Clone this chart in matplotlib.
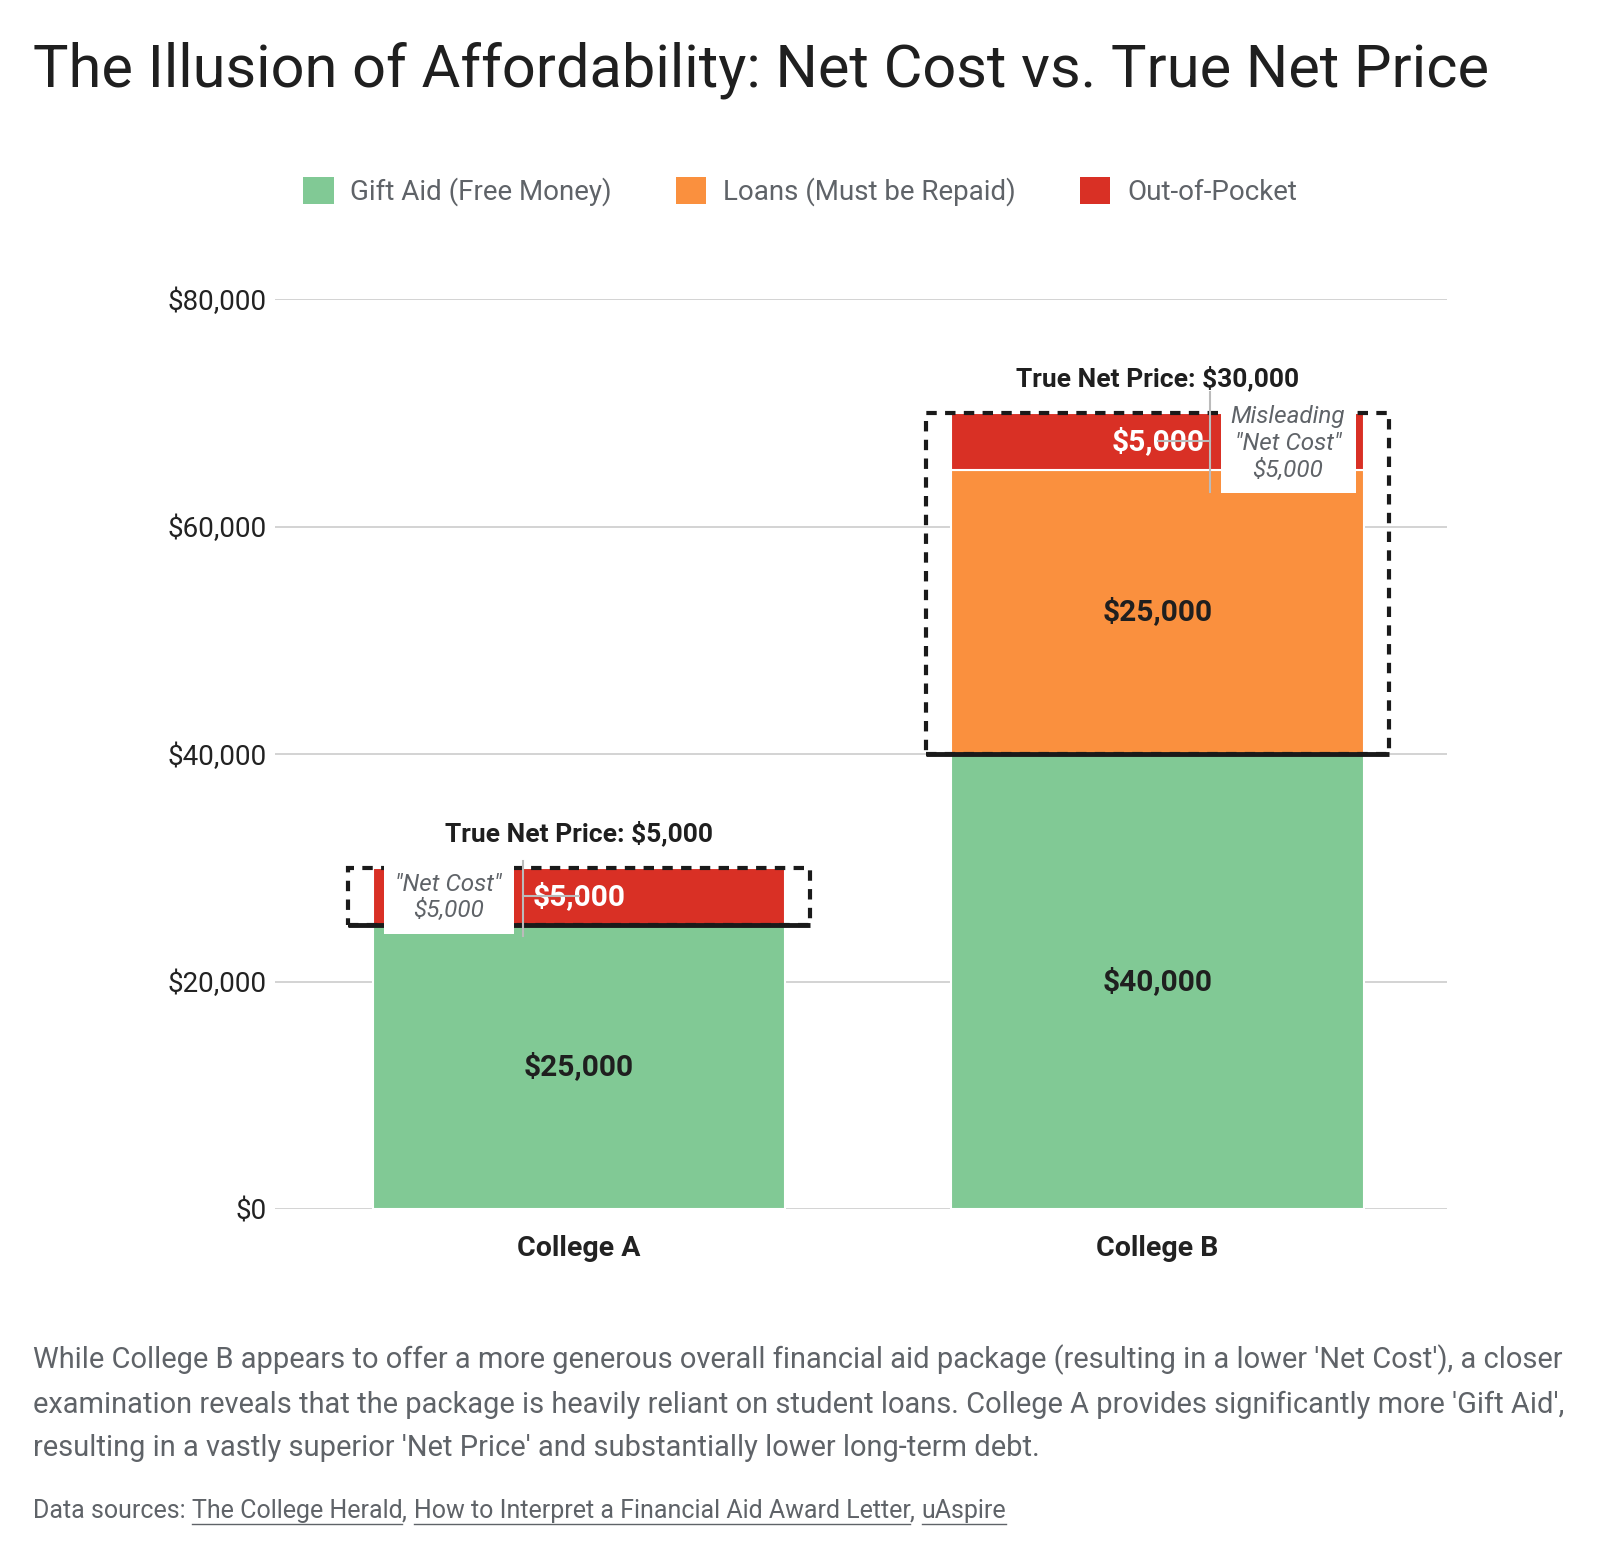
import matplotlib
matplotlib.use('Agg')
import matplotlib.pyplot as plt
from matplotlib.patches import Rectangle, Patch
import numpy as np

# data
colleges = ['College A', 'College B']
gift_aid = [25000, 40000]
loans = [0, 25000]
out_of_pocket = [5000, 5000]
true_net_price = [5000, 30000]
net_cost = [5000, 5000]
series_names = ['Gift Aid (Free Money)', 'Loans (Must be Repaid)', 'Out-of-Pocket']
colors = ['#81c995', '#fa903e', '#d93025']
y_ticks = [0, 20000, 40000, 60000, 80000]

plt.rcParams['font.family'] = ['Roboto', 'DejaVu Sans']

fig = plt.figure(figsize=(16, 15.6), dpi=100)
ax = fig.add_axes([0.1719, 0.225, 0.7325, 0.5833])

x = np.arange(len(colleges))
w = 0.713
bottom = np.zeros(len(colleges))
for vals, col in zip([gift_aid, loans, out_of_pocket], colors):
    ax.bar(x, vals, w, bottom=bottom, color=col, edgecolor='white', linewidth=1.5, zorder=2)
    bottom = bottom + np.array(vals)

ax.set_xlim(-0.525, 1.5)
ax.set_ylim(0, 80000)
ax.set_yticks(y_ticks)
ax.set_yticklabels(['${:,}'.format(v) for v in y_ticks], fontsize=20, color='#222222')
ax.set_xticks(x)
ax.set_xticklabels(colleges, fontsize=20.5, fontweight='bold', color='#222222')
ax.tick_params(length=0)
ax.tick_params(axis='y', pad=6)
ax.tick_params(axis='x', pad=19)
ax.grid(axis='y', color='#cccccc', linewidth=1.2, zorder=0)
for s in ax.spines.values():
    s.set_visible(False)

# segment labels
for i in range(len(colleges)):
    g, l, o = gift_aid[i], loans[i], out_of_pocket[i]
    ax.text(x[i], g / 2, '${:,}'.format(g), ha='center', va='center', fontsize=21.5,
            fontweight='bold', color='#1f1f1f', zorder=4)
    if l:
        ax.text(x[i], g + l / 2, '${:,}'.format(l), ha='center', va='center', fontsize=21.5,
                fontweight='bold', color='#1f1f1f', zorder=4)
    ax.text(x[i], g + l + o / 2, '${:,}'.format(o), ha='center', va='center', fontsize=21.5,
            fontweight='bold', color='white', zorder=4)

# dashed "true net price" boxes
pad = 0.043
for i in range(len(colleges)):
    base = gift_aid[i]
    top = base + true_net_price[i]
    ax.add_patch(Rectangle((x[i] - w / 2 - pad, base), w + 2 * pad, true_net_price[i],
                           fill=False, edgecolor='#1a1a1a', linewidth=3,
                           linestyle=(0, (2.5, 2)), zorder=5))
    ax.plot([x[i] - w / 2 - pad, x[i] + w / 2 + pad], [base, base], color='#1a1a1a',
            linewidth=3.5, solid_capstyle='butt', zorder=6)
    ax.text(x[i], top + 3000, 'True Net Price: ${:,}'.format(true_net_price[i]),
            ha='center', va='center', fontsize=19, fontweight='bold', color='#1f1f1f', zorder=6)

# misleading "net cost" annotations
ann = [
    dict(stem=-0.097, y0=24000, y1=30600, box=(-0.337, 24150, 0.225, 6350),
         text='"Net Cost"\n${:,}'.format(net_cost[0]), tx=-0.225, ty=27400),
    dict(stem=1.091, y0=63000, y1=71800, box=(1.109, 62950, 0.233, 8800),
         text='Misleading\n"Net Cost"\n${:,}'.format(net_cost[1]), tx=1.225, ty=67300),
]
for i, a in enumerate(ann):
    ymid = gift_aid[i] + loans[i] + out_of_pocket[i] / 2
    ax.add_patch(Rectangle(a['box'][:2], a['box'][2], a['box'][3], facecolor='white',
                           edgecolor='none', zorder=7))
    ax.plot([a['stem'], a['stem']], [a['y0'], a['y1']], color='#bbbbbb', linewidth=1.5, zorder=7)
    ax.plot([a['stem'], x[i]], [ymid, ymid], color='#bbbbbb', linewidth=1.5, zorder=7)
    ax.text(a['tx'], a['ty'], a['text'], ha='center', va='center', fontsize=17.5,
            style='italic', color='#5f6368', linespacing=1.2, zorder=8)

# title
fig.text(0.0206, 0.955, 'The Illusion of Affordability: Net Cost vs. True Net Price',
         fontsize=42.8, color='#1f1f1f', va='center', ha='left')

# legend
handles = [Patch(facecolor=c, edgecolor='none') for c in colors]
fig.legend(handles, series_names, loc='center', bbox_to_anchor=(0.5, 0.877), ncol=3,
           frameon=False, fontsize=20, labelcolor='#5f6368', handlelength=1.1,
           handleheight=1.1, columnspacing=2.3, handletextpad=0.6)

# footer text
para = ("While College B appears to offer a more generous overall financial aid package (resulting in a lower 'Net Cost'), a closer\n"
        "examination reveals that the package is heavily reliant on student loans. College A provides significantly more 'Gift Aid',\n"
        "resulting in a vastly superior 'Net Price' and substantially lower long-term debt.")
fig.text(0.0206, 1 - 1403 / 1560, para, fontsize=20.9, color='#5f6368', va='center', ha='left',
         linespacing=1.7)

parts = [('Data sources: ', False), ('The College Herald', True), (', ', False),
         ('How to Interpret a Financial Aid Award Letter', True), (', ', False),
         ('uAspire', True)]
renderer = fig.canvas.get_renderer()
xpos = 0.0206
ypos = 1 - 1511 / 1560
for txt, ul in parts:
    t = fig.text(xpos, ypos, txt, fontsize=18, color='#5f6368', va='center', ha='left')
    bb = t.get_window_extent(renderer=renderer)
    w_fig = bb.width / fig.bbox.width
    if ul:
        yl = (bb.y0 - 1) / fig.bbox.height
        fig.add_artist(plt.Line2D([xpos, xpos + w_fig], [yl, yl], color='#5f6368', linewidth=1))
    xpos += w_fig

fig.savefig('out.png', dpi=100)
